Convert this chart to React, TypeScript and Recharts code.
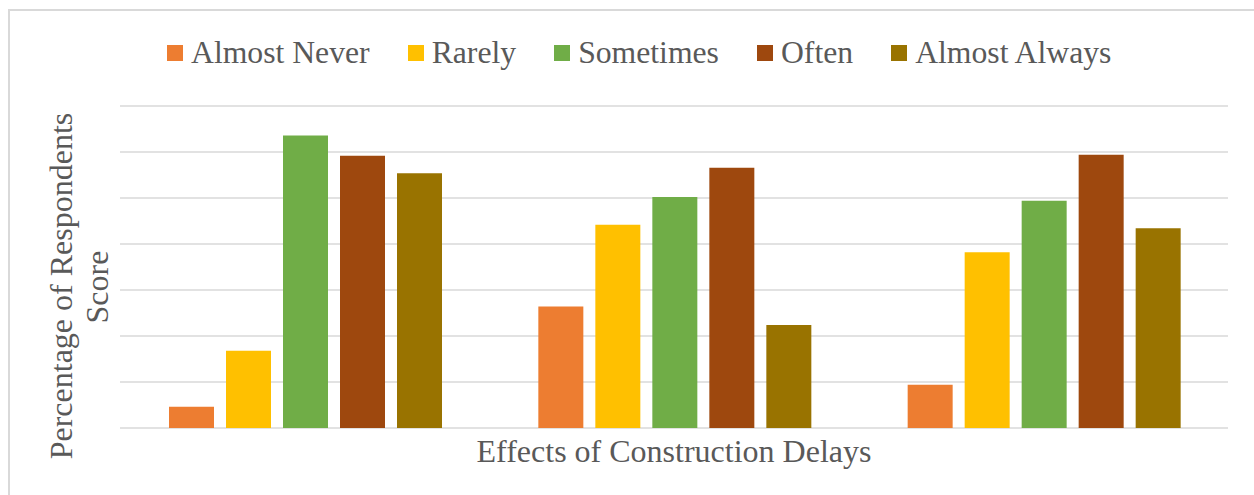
import { Bar, BarChart, CartesianGrid, XAxis, YAxis } from "recharts";

// Survey responses per effect group, in percent of respondents
const effects = ["Cost overrun", "Time overrun", "Disputes"];
const almostNever = [2.3, 13.2, 4.7];
const rarely = [8.4, 22.1, 19.1];
const sometimes = [31.8, 25.1, 24.7];
const often = [29.6, 28.3, 29.7];
const almostAlways = [27.7, 11.2, 21.7];
const yTicks = [0, 5, 10, 15, 20, 25, 30, 35];

const series = [
  { key: "almostNever", name: "Almost Never", color: "#ED7D31" },
  { key: "rarely", name: "Rarely", color: "#FFC000" },
  { key: "sometimes", name: "Sometimes", color: "#70AD47" },
  { key: "often", name: "Often", color: "#9E480E" },
  { key: "almostAlways", name: "Almost Always", color: "#997300" },
];

const data = effects.map((effect, i) => ({
  effect,
  almostNever: almostNever[i],
  rarely: rarely[i],
  sometimes: sometimes[i],
  often: often[i],
  almostAlways: almostAlways[i],
}));

const FONT = '"Liberation Serif", "Times New Roman", serif';
const TEXT = "#595959";

const noTick = () => <g />;

export default function App() {
  return (
    <div style={{ position: "fixed", left: 0, top: 0, width: 1254, height: 495, background: "#fff", overflow: "hidden" }}>
      <div
        style={{
          position: "absolute",
          left: 8,
          top: 9,
          width: 1300,
          height: 600,
          borderLeft: "2px solid #d9d9d9",
          borderTop: "2px solid #d9d9d9",
        }}
      />
      <BarChart
        width={1254}
        height={495}
        data={data}
        margin={{ top: 106, right: 26, left: 120, bottom: 67 }}
        barCategoryGap={49}
        barGap={12}
        style={{ position: "absolute", left: 0, top: 0 }}
      >
        <CartesianGrid vertical={false} stroke="#d9d9d9" strokeWidth={1.5} />
        <XAxis dataKey="effect" tick={noTick} tickLine={false} axisLine={false} height={0} />
        <YAxis domain={[0, 35]} ticks={yTicks} tick={noTick} tickLine={false} axisLine={false} width={0} />
        {series.map((s) => (
          <Bar key={s.key} dataKey={s.key} name={s.name} fill={s.color} isAnimationActive={false} />
        ))}
      </BarChart>
      {/* legend row */}
      <div
        style={{
          position: "absolute",
          left: 167,
          top: 37,
          display: "flex",
          alignItems: "center",
          fontFamily: FONT,
          fontSize: 31.7,
          lineHeight: "32px",
          color: TEXT,
        }}
      >
        {series.map((s, i) => (
          <div key={s.key} style={{ display: "flex", alignItems: "center", marginLeft: i === 0 ? 0 : 38 }}>
            <span style={{ width: 16, height: 16, background: s.color, marginRight: 8, display: "inline-block" }} />
            <span>{s.name}</span>
          </div>
        ))}
      </div>
      <svg width={1254} height={495} style={{ position: "absolute", left: 0, top: 0, pointerEvents: "none" }}>
        <g fontFamily={FONT} fontSize={32} fill={TEXT} textAnchor="middle">
          <text transform="translate(72,286) rotate(-90)">Percentage of Respondents</text>
          <text transform="translate(108,287) rotate(-90)">Score</text>
          <text x={674} y={462}>Effects of Construction Delays</text>
        </g>
      </svg>
    </div>
  );
}
